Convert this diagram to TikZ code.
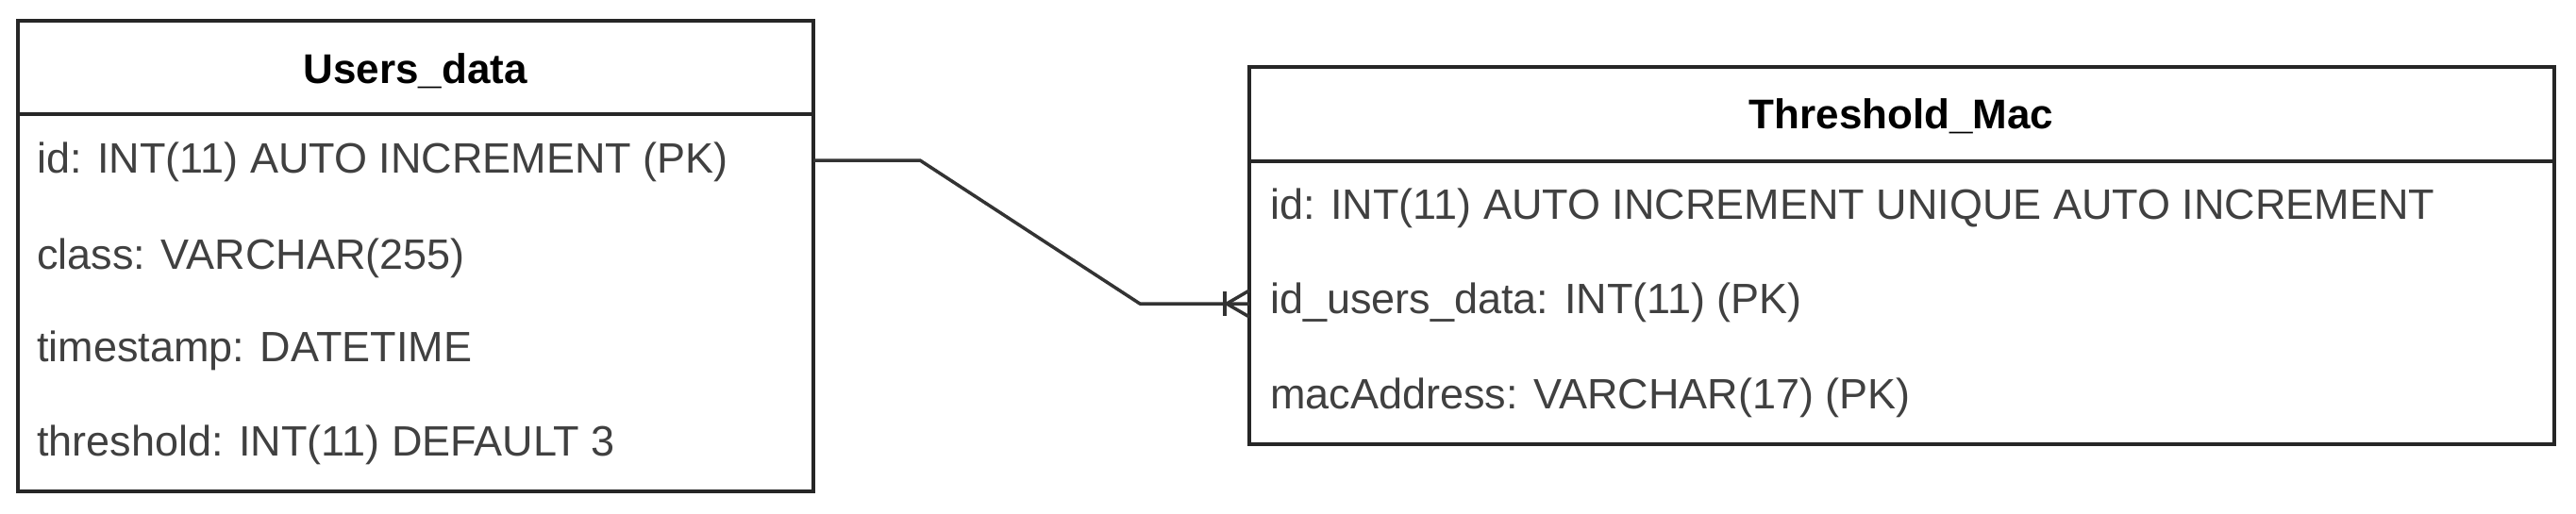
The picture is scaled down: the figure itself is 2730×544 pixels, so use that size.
\documentclass[tikz,border=0pt]{standalone}
\usepackage{fontspec}
\setmainfont{Liberation Sans}
\begin{document}
\begin{tikzpicture}[x=1pt,y=-1pt,
  box/.style={draw=black!85,line width=3.5pt},
  ln/.style={draw=black!80,line width=3.5pt},
  row/.style={anchor=west,inner sep=0pt,font=\fontsize{45}{48}\selectfont,text=black!75},
  ttl/.style={inner sep=0pt,font=\fontsize{44}{48}\selectfont\bfseries}]
\useasboundingbox (0,0) rectangle (2730,544);
% Users_data
\draw[box] (19,22) rectangle (862,521);
\draw[box] (19,121) -- (862,121);
\node[ttl] (ut) at (440,75) {Users\_data};
\node[row] (u1) at (39,172) {id: INT(11) AUTO INCREMENT (PK)};
\node[row] (u2) at (39,274) {class: VARCHAR(255)};
\node[row] (u3) at (39,372) {timestamp: DATETIME};
\node[row] (u4) at (39,472) {threshold: INT(11) DEFAULT 3};
% Threshold_Mac
\draw[box] (1324,71) rectangle (2707,471);
\draw[box] (1324,171) -- (2707,171);
\node[ttl] (tt) at (2015,123) {Threshold\_Mac};
\node[row] (t1) at (1346,221) {id: INT(11) AUTO INCREMENT UNIQUE AUTO INCREMENT};
\node[row] (t2) at (1346,321) {id\_users\_data: INT(11) (PK)};
\node[row] (t3) at (1346,422) {macAddress: VARCHAR(17) (PK)};
% connector
\coordinate (a) at (862,170);
\coordinate (b) at (1324,322);
\draw[ln,line join=round] (a) -- (975,170) -- (1208,322) -- (b);
\draw[ln] (1298,309) -- (1298,335);
\draw[ln] (1300,322) -- (1324,308);
\draw[ln] (1300,322) -- (1324,336);
\end{tikzpicture}
\end{document}
